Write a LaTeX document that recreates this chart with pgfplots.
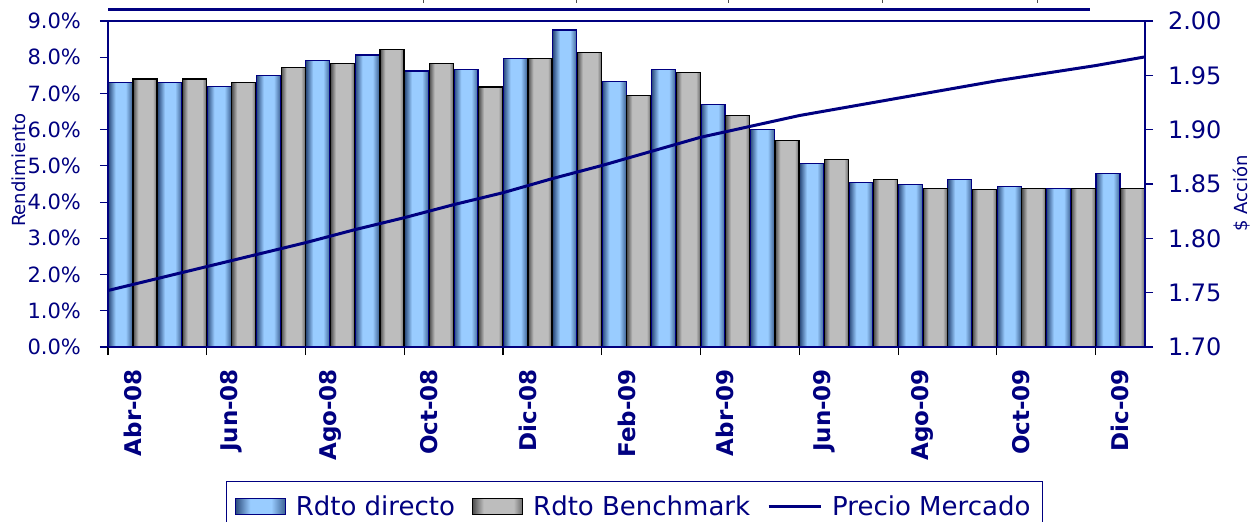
\documentclass[border=0pt]{standalone}
\usepackage{pgfplots}
\pgfplotsset{compat=1.18}
\usepackage{fontspec}
\setmainfont{DejaVu Sans}
\definecolor{navy}{HTML}{000080}
\definecolor{bL}{HTML}{29497A}
\definecolor{blight}{HTML}{99CCFF}
\definecolor{bR}{HTML}{3D6294}
\definecolor{gL}{HTML}{4E4E4E}
\definecolor{glight}{HTML}{BDBDBD}
\definecolor{gR}{HTML}{6A6A6A}
\pgfdeclareverticalshading{bluesh}{100bp}{color(0bp)=(bR); color(25bp)=(bR); color(39bp)=(blight); color(60bp)=(blight); color(75bp)=(bL); color(100bp)=(bL)}
\pgfdeclareverticalshading{graysh}{100bp}{color(0bp)=(gR); color(25bp)=(gR); color(34bp)=(glight); color(64bp)=(glight); color(75bp)=(gL); color(100bp)=(gL)}
\pgfplotsset{
  bluebar/.style={ybar, bar width=12pt, bar shift=-6.17pt, draw=navy, line width=0.6pt,
    shade, shading=bluesh, shading angle=90},
  graybar/.style={ybar, bar width=12pt, bar shift=6.17pt, draw=black, line width=0.6pt,
    shade, shading=graysh, shading angle=90},
}
\begin{document}
\begin{tikzpicture}
\begin{axis}[
  at={(54pt,87pt)}, anchor=south west,
  scale only axis, width=518.5pt, height=163pt,
  xmin=-0.5, xmax=20.5, ymin=0, ymax=9,
  axis line style={navy, line width=0.6pt},
  ytick={0,1,...,9},
  yticklabel={\pgfmathprintnumber[fixed,fixed zerofill,precision=1]{\tick}\%},
  /pgf/number format/assume math mode=true,
  y tick label style={text=navy, font=\fontsize{10.5}{12}\selectfont},
  yticklabel shift=6pt,
  ytick style={navy, line width=0.6pt},
  tick align=outside,
  major tick length=4pt,
  ytick pos=left,
  xtick={0,2,...,20},
  xticklabels={Abr-08,Jun-08,Ago-08,Oct-08,Dic-08,Feb-09,Abr-09,Jun-09,Ago-09,Oct-09,Dic-09},
  x tick label style={rotate=90, anchor=east, text=navy, font=\bfseries\fontsize{11.5}{12}\selectfont},
  xticklabel shift=3.5pt,
  xtick style={draw=none},
  xtick pos=bottom,
]
% Rdto directo
\addplot[bluebar] coordinates {(0,7.30)};
\addplot[bluebar] coordinates {(1,7.30)};
\addplot[bluebar] coordinates {(2,7.20)};
\addplot[bluebar] coordinates {(3,7.50)};
\addplot[bluebar] coordinates {(4,7.92)};
\addplot[bluebar] coordinates {(5,8.06)};
\addplot[bluebar] coordinates {(6,7.62)};
\addplot[bluebar] coordinates {(7,7.67)};
\addplot[bluebar] coordinates {(8,7.96)};
\addplot[bluebar] coordinates {(9,8.75)};
\addplot[bluebar] coordinates {(10,7.34)};
\addplot[bluebar] coordinates {(11,7.67)};
\addplot[bluebar] coordinates {(12,6.70)};
\addplot[bluebar] coordinates {(13,6.01)};
\addplot[bluebar] coordinates {(14,5.07)};
\addplot[bluebar] coordinates {(15,4.54)};
\addplot[bluebar] coordinates {(16,4.49)};
\addplot[bluebar] coordinates {(17,4.63)};
\addplot[bluebar] coordinates {(18,4.43)};
\addplot[bluebar] coordinates {(19,4.38)};
\addplot[bluebar] coordinates {(20,4.79)};
% Rdto Benchmark
\addplot[graybar] coordinates {(0,7.40)};
\addplot[graybar] coordinates {(1,7.40)};
\addplot[graybar] coordinates {(2,7.30)};
\addplot[graybar] coordinates {(3,7.72)};
\addplot[graybar] coordinates {(4,7.82)};
\addplot[graybar] coordinates {(5,8.21)};
\addplot[graybar] coordinates {(6,7.82)};
\addplot[graybar] coordinates {(7,7.18)};
\addplot[graybar] coordinates {(8,7.96)};
\addplot[graybar] coordinates {(9,8.12)};
\addplot[graybar] coordinates {(10,6.95)};
\addplot[graybar] coordinates {(11,7.58)};
\addplot[graybar] coordinates {(12,6.40)};
\addplot[graybar] coordinates {(13,5.71)};
\addplot[graybar] coordinates {(14,5.17)};
\addplot[graybar] coordinates {(15,4.63)};
\addplot[graybar] coordinates {(16,4.38)};
\addplot[graybar] coordinates {(17,4.34)};
\addplot[graybar] coordinates {(18,4.38)};
\addplot[graybar] coordinates {(19,4.38)};
\addplot[graybar] coordinates {(20,4.38)};
\end{axis}
\begin{axis}[
  at={(54pt,87pt)}, anchor=south west,
  scale only axis, width=518.5pt, height=163pt,
  xmin=-0.5, xmax=20.5, ymin=1.70, ymax=2.00,
  axis x line*=bottom, axis y line*=right,
  axis line style={-, navy, line width=0.6pt},
  xtick={-0.5,1.5,...,19.5}, xticklabels={},
  xtick style={black, line width=0.6pt},
  ytick={1.70,1.75,1.80,1.85,1.90,1.95,2.00},
  yticklabel={\pgfmathprintnumber[fixed,fixed zerofill,precision=2]{\tick}},
  /pgf/number format/assume math mode=true,
  y tick label style={text=navy, font=\fontsize{12}{13}\selectfont},
  yticklabel shift=4pt,
  ytick style={navy, line width=0.6pt},
  tick align=outside,
  major tick length=4pt,
  legend columns=3,
  legend style={at={(0.1138,-0.41)}, anchor=north west, draw=navy, line width=0.6pt,
    font=\fontsize{13}{15}\selectfont, text=navy, inner xsep=4pt, inner ysep=5pt,
    /tikz/every odd column/.append style={column sep=3pt},
    /tikz/every even column/.append style={column sep=6.5pt}},
]
\addlegendimage{legend image code/.code={\draw[draw=navy, line width=0.6pt, shade, shading=bluesh, shading angle=90] (0pt,-4pt) rectangle (25pt,4pt);}}
\addlegendentry{Rdto directo}
\addlegendimage{legend image code/.code={\draw[draw=black, line width=0.6pt, shade, shading=graysh, shading angle=90] (0pt,-4pt) rectangle (25pt,4pt);}}
\addlegendentry{Rdto Benchmark}
\addplot[navy, line width=1.5pt, legend image code/.code={\draw[navy, line width=1.5pt] (0pt,0pt) -- (26pt,0pt);}] coordinates {
(-0.5,1.752)(0.5,1.763)(1.5,1.774)(2.5,1.785)(3.5,1.796)(4.5,1.808)(5.5,1.819)
(6.5,1.831)(7.5,1.842)(8.5,1.855)(9.5,1.867)(10.5,1.880)(11.5,1.893)(12.5,1.903)
(13.5,1.913)(14.5,1.921)(15.5,1.929)(16.5,1.937)(17.5,1.945)(18.5,1.952)(19.5,1.959)(20.5,1.967)};
\addlegendentry{Precio Mercado}
\end{axis}
\node[rotate=90, text=navy, font=\fontsize{9}{10}\selectfont] at (9.5pt,175.5pt) {Rendimiento};
\node[rotate=90, text=navy, font=\fontsize{9}{10}\selectfont] at (621pt,164pt) {\$ Acción};
\draw[navy, line width=1.5pt] (54pt,255.5pt) -- (545pt,255.5pt);
\foreach \xx in {211.5,288,364,441,518.5} \draw[black!70, line width=0.5pt] (\xx pt,259pt) -- (\xx pt,262pt);
\pgfresetboundingbox
\path[use as bounding box] (0pt,0pt) rectangle (627pt,260.5pt);
\end{tikzpicture}
\end{document}
